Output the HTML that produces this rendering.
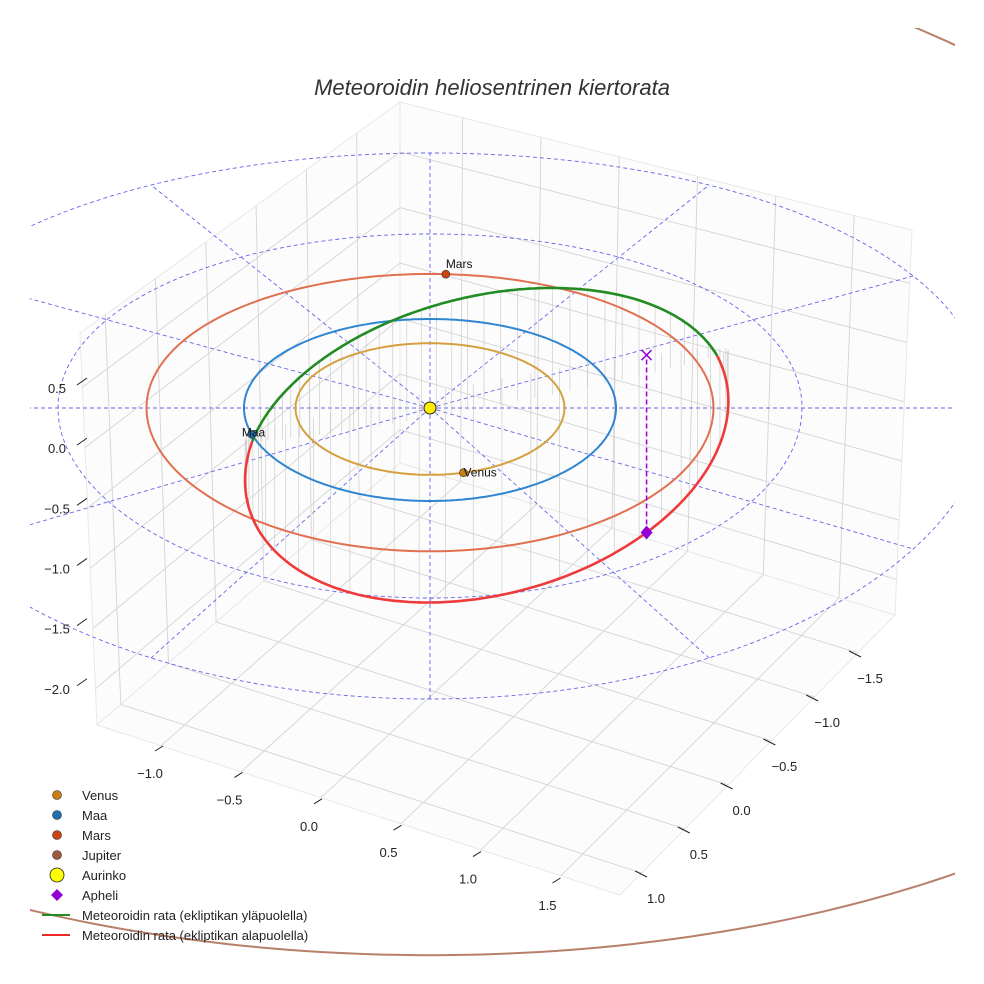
<!DOCTYPE html>
<html><head><meta charset="utf-8"><style>
html,body{margin:0;padding:0;background:#fff;}
svg{display:block;font-family:"Liberation Sans",sans-serif;}
</style></head><body>
<svg id="chart" width="984" height="984" viewBox="0 0 984 984" xmlns="http://www.w3.org/2000/svg">
<defs><clipPath id="axclip"><rect x="30" y="28" width="925" height="930"/></clipPath></defs>
<text x="492" y="95" text-anchor="middle" font-size="22" font-style="italic" fill="#333">Meteoroidin heliosentrinen kiertorata</text>
<g id="panes"></g><g id="rings"></g><g id="drops"></g><g id="orbits"></g><g id="meteor"></g><g id="marks"></g><g id="axes"></g><g id="legend"></g>
</svg>
<script>
// ---- data ----
const planetNames = ["Venus","Maa","Mars","Jupiter"];
const planetRadii = [0.723, 1.0, 1.524, 5.2];
const planetAngles = [75.6, 163.3, -86.8, null];
const planetColors = ["#d4a040","#2f85d0","#e07050","#b8806a"];
const planetDotColors = ["#c87d10","#1f6fb0","#cc4410","#a0583a"];
const refRings = [1, 2, 3];
const radialAngles = [0,30,60,90,120,150,180,210,240,270,300,330];
// meteoroid orbital elements in screen-fitted frame
const meteorP = [1.2614];
const meteorE = [0.3547];
const meteorOmega = [131.6];
const nodeDir = [0.9355, -0.353, 0];
const planeDir = [0.034, 0.090, 0.995];
const zTicks = [0.5, 0.0, -0.5, -1.0, -1.5, -2.0];
const xTicks = [-1.0, -0.5, 0.0, 0.5, 1.0, 1.5];
const yTicks = [-1.5, -1.0, -0.5, 0.0, 0.5, 1.0];

const NS = "http://www.w3.org/2000/svg";
function mk(tag, attrs, parent){const e=document.createElementNS(NS,tag);for(const k in attrs)e.setAttribute(k,attrs[k]);parent.appendChild(e);return e;}
function P(X,Y,Z){const zs=Z<0?122:112;return [430+186*X, 408+91*Y+2*Y*Y-zs*Z];}
// far-field projection used for the large outer orbit (fitted to the view)
function PJ(X,Y){return [430+173*X, 521+(Y<0?112.7:83.5)*Y];}
function pts(arr){return arr.map(p=>p[0].toFixed(1)+","+p[1].toFixed(1)).join(" ");}
function lerp(a,b,t){return [a[0]+(b[0]-a[0])*t, a[1]+(b[1]-a[1])*t];}

// ---- box panes ----
const B=[400,463],L=[97,725],F=[620,895],R=[895,615],Bt=[400,102],Lt=[80,333],Rt=[912,230];
const gP=document.getElementById("panes");
let e;
e=mk("polygon",{points:pts([L,Lt,Bt,B]),fill:"#fcfcfc",stroke:"#e8e8e8"},gP);


e=mk("polygon",{points:pts([B,Bt,Rt,R]),fill:"#fcfcfc",stroke:"#e8e8e8"},gP);


e=mk("polygon",{points:pts([B,L,F,R]),fill:"#fcfcfc",stroke:"#e8e8e8"},gP);


function fLeft(v){return (1.25-v)/3.18;}
function fRight(v){return (v+1.40)/3.27;}
function gZ(z){return (z+2.3)/3.25;}
function gl(a,b,name){const l=mk("line",{x1:a[0],y1:a[1],x2:b[0],y2:b[1],stroke:"#d4d4d4","stroke-width":0.9},gP);}
yTicks.forEach(v=>{const f=fLeft(v);gl(lerp(L,B,f),lerp(Lt,Bt,f),'left-wall-gridline');gl(lerp(L,B,f),lerp(F,R,f),'floor-gridline');});
xTicks.forEach(v=>{const f=fRight(v);gl(lerp(B,R,f),lerp(Bt,Rt,f),'right-wall-gridline');gl(lerp(B,R,f),lerp(L,F,f),'floor-gridline');});
zTicks.forEach(z=>{const g=gZ(z);gl(lerp(L,Lt,g),lerp(B,Bt,g),'left-wall-z-gridline');gl(lerp(B,Bt,g),lerp(R,Rt,g),'right-wall-z-gridline');});

// ---- reference rings ----
const gR=document.getElementById("rings");
function circ(r,proj){const a=[];for(let i=0;i<=360;i++){const t=i/360*2*Math.PI;a.push((proj||P)(r*Math.cos(t),r*Math.sin(t),0));}return a;}
refRings.forEach(r=>{e=mk("polyline",{points:pts(circ(r)),fill:"none",stroke:"#4a4ae8","stroke-width":0.9,"stroke-dasharray":"4,3",opacity:0.85,"clip-path":"url(#axclip)"},gR);

});
radialAngles.forEach(a=>{const t=a*Math.PI/180;const q=P(3*Math.cos(t),3*Math.sin(t),0);
e=mk("line",{x1:430,y1:408,x2:q[0],y2:q[1],stroke:"#4a4ae8","stroke-width":0.9,"stroke-dasharray":"4,3",opacity:0.85,"clip-path":"url(#axclip)"},gR);

});

// ---- meteoroid orbit ----
const u=nodeDir, w=planeDir;
function mpos(deg){const t=deg*Math.PI/180;const r=meteorP[0]/(1+meteorE[0]*Math.cos(t-meteorOmega[0]*Math.PI/180));
return [r*(Math.cos(t)*u[0]+Math.sin(t)*w[0]), r*(Math.cos(t)*u[1]+Math.sin(t)*w[1]), r*(Math.cos(t)*u[2]+Math.sin(t)*w[2])];}
const gD=document.getElementById("drops");
for(let d=0;d<360;d+=5){const q=mpos(d);const a=P(q[0],q[1],q[2]),b=P(q[0],q[1],0);
e=mk("line",{x1:a[0],y1:a[1],x2:b[0],y2:b[1],stroke:"#c8c8c8","stroke-width":0.8,opacity:0.8},gD);

}

// ---- planet orbits ----
const gO=document.getElementById("orbits");
planetRadii.forEach((r,i)=>{e=mk("polyline",{points:pts(circ(r,i===3?PJ:P)),fill:"none",stroke:planetColors[i],"stroke-width":2,"clip-path":"url(#axclip)"},gO);

});

const gM=document.getElementById("meteor");
const up=[],dn=[];
for(let d=0;d<=180;d+=1){const q=mpos(d);up.push(P(q[0],q[1],q[2]));}
for(let d=180;d<=360;d+=1){const q=mpos(d);dn.push(P(q[0],q[1],q[2]));}
e=mk("polyline",{points:pts(dn),fill:"none",stroke:"#ee3a3a","stroke-width":2.6},gM);


e=mk("polyline",{points:pts(up),fill:"none",stroke:"#228b22","stroke-width":2.6},gM);



// ---- markers ----
const gK=document.getElementById("marks");
const ap=mpos(meteorOmega[0]+180);
const apS=P(ap[0],ap[1],ap[2]), apE=P(ap[0],ap[1],0);
e=mk("line",{x1:apS[0],y1:apS[1],x2:apE[0],y2:apE[1],stroke:"#9400d3","stroke-width":1.5,"stroke-dasharray":"5,3"},gK);


e=mk("path",{d:`M${apE[0]-5},${apE[1]-5}L${apE[0]+5},${apE[1]+5}M${apE[0]-5},${apE[1]+5}L${apE[0]+5},${apE[1]-5}`,stroke:"#9400d3","stroke-width":1.5},gK);


e=mk("polygon",{points:pts([[apS[0],apS[1]-7],[apS[0]+6,apS[1]],[apS[0],apS[1]+7],[apS[0]-6,apS[1]]]),fill:"#9400d3"},gK);


planetNames.forEach((n,i)=>{if(planetAngles[i]===null)return;const t=planetAngles[i]*Math.PI/180;
const p=P(planetRadii[i]*Math.cos(t),planetRadii[i]*Math.sin(t),0);
e=mk("circle",{cx:p[0],cy:p[1],r:4,fill:planetDotColors[i],stroke:"#333","stroke-width":0.6},gK);


const off=n==="Mars"?[0,-6]:(n==="Maa"?[-10,2]:[0,4]);
e=mk("text",{x:p[0]+off[0],y:p[1]+off[1],"font-size":12,fill:"#111"},gK);e.textContent=n;

});
e=mk("circle",{cx:430,cy:408,r:6,fill:"#ffee00",stroke:"#222","stroke-width":1},gK);



// ---- axis ticks ----
const gA=document.getElementById("axes");
function tick(x1,y1,x2,y2,lx,ly,txt,name){
 e=mk("line",{x1,y1,x2,y2,stroke:"#222","stroke-width":1},gA);
 
 
 e=mk("text",{x:lx,y:ly,"font-size":13,fill:"#222","text-anchor":"middle"},gA);
 e.textContent=txt.replace("-","\u2212");
 
 }
zTicks.forEach(z=>{const y=388+(0.5-z)*120.3;tick(77,y-3,87,y-10,57,y+5,z.toFixed(1),'z-axis');});
xTicks.forEach(v=>{const x=150+(v+1)*159,y=773+(v+1)*52.8;tick(x+5,y-22,x+13,y-27,x,y+5,v.toFixed(1),'x-axis');});
yTicks.forEach(v=>{const x=656+(1-v)*85.6,y=898-(1-v)*88;tick(x-21,y-27,x-9,y-21,x,y+5,v.toFixed(1),'y-axis');});

// ---- legend ----
const gL=document.getElementById("legend");
const legLabels=["Venus","Maa","Mars","Jupiter","Aurinko","Apheli","Meteoroidin rata (ekliptikan yläpuolella)","Meteoroidin rata (ekliptikan alapuolella)"];
legLabels.forEach((t,i)=>{const y=795+i*20;
 if(i<4){e=mk("circle",{cx:57,cy:y,r:4.5,fill:planetDotColors[i],stroke:"#333","stroke-width":0.6},gL);}
 else if(i===4){e=mk("circle",{cx:57,cy:y,r:7,fill:"#ffff00",stroke:"#222","stroke-width":0.8},gL);}
 else if(i===5){e=mk("polygon",{points:`57,${y-6} 63,${y} 57,${y+6} 51,${y}`,fill:"#9400d3"},gL);}
 else {e=mk("line",{x1:42,y1:y,x2:70,y2:y,stroke:i===6?"#228b22":"#ee2a2a","stroke-width":2},gL);}
 
 
 e=mk("text",{x:82,y:y+5,"font-size":13,fill:"#222"},gL);e.textContent=t;
 
 });
</script>
</body></html>
